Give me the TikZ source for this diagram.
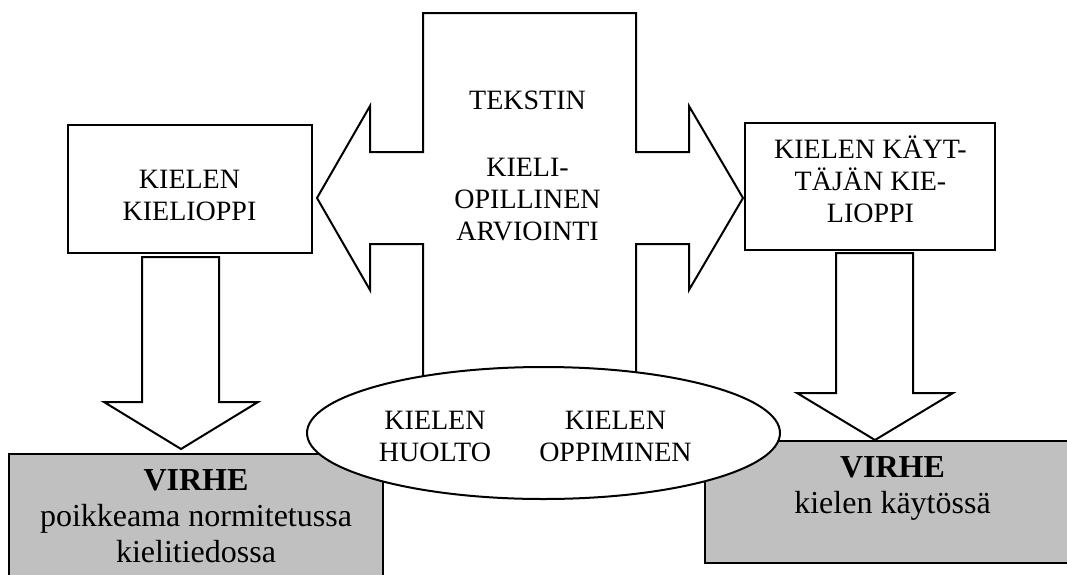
\documentclass[tikz,border=0pt]{standalone}
\usepackage{fontspec}
\setmainfont{Liberation Serif}
\usetikzlibrary{shapes.geometric}

\definecolor{errgray}{RGB}{192,192,192}

\tikzset{
  outline/.style={draw=black, line width=1pt, line join=miter},
  blockarrow/.style={outline, fill=white},
  conceptbox/.style={draw=black, line width=1.4pt, fill=white, rectangle, inner sep=0pt},
  errorbox/.style={draw=black, line width=1pt, fill=errgray, rectangle, inner sep=0pt},
  oval/.style={draw=black, line width=1pt, fill=white, ellipse, inner sep=0pt},
  label/.style={align=center, inner sep=0pt, font=\fontsize{14}{16}\selectfont},
  errlabel/.style={align=center, inner sep=0pt, font=\fontsize{16}{18}\selectfont}
}

\begin{document}
\begin{tikzpicture}[x=0.5pt, y=-0.5pt]
  \useasboundingbox (0,0) rectangle (1067,574);
  \clip (0,0) rectangle (1067,574);

  % grey result boxes (partly running off the page)
  \node[errorbox, minimum width=187pt, minimum height=83pt] (errL) at (196,537) {};
  \node[errorbox, minimum width=187.5pt, minimum height=61pt] (errR) at (892.5,502) {};

  % central cross-shaped double arrow
  \path[blockarrow]
    (423,13) -- (636,13) -- (636,152) -- (689,152) -- (689,106) -- (743,198)
    -- (689,290) -- (689,244) -- (636,244) -- (636,440) -- (423,440)
    -- (423,244) -- (370,244) -- (370,290) -- (317,198) -- (370,106)
    -- (370,152) -- (423,152) -- cycle;

  % grammar boxes
  \node[conceptbox, minimum width=122pt, minimum height=64pt] (gram) at (190,189) {};
  \node[conceptbox, minimum width=125pt, minimum height=63.5pt] (usergram) at (870,186.5) {};

  % downward block arrows
  \path[blockarrow]
    (142,257) -- (219,257) -- (219,402) -- (258,402) -- (181,449)
    -- (104,402) -- (142,402) -- cycle;
  \path[blockarrow]
    (836,253) -- (913,253) -- (913,393) -- (953,393) -- (875,440)
    -- (797,393) -- (836,393) -- cycle;

  % oval for maintenance and learning
  \node[oval, minimum width=236.5pt, minimum height=66pt] (use) at (543.5,433) {};

  % texts
  \node[label] (tgram) at (189.5,195.5) {KIELEN\\KIELIOPPI};
  \node[label] (tuser) at (870.5,179.5) {KIELEN KÄYT-\\TÄJÄN KIE-\\LIOPPI};
  \node[label] (teval) at (527.5,165.5) {TEKSTIN\\[1.5pt]\mbox{}\\KIELI-\\OPILLINEN\\ARVIOINTI};
  \node[label] (tcare) at (435,436) {KIELEN\\HUOLTO};
  \node[label] (tlearn) at (615.5,436) {KIELEN\\OPPIMINEN};
  \node[errlabel] (terrL) at (196,516) {\textbf{VIRHE}\\poikkeama normitetussa\\kielitiedossa};
  \node[errlabel] (terrR) at (892.5,488) {\textbf{VIRHE}\\kielen käytössä};
\end{tikzpicture}
\end{document}
